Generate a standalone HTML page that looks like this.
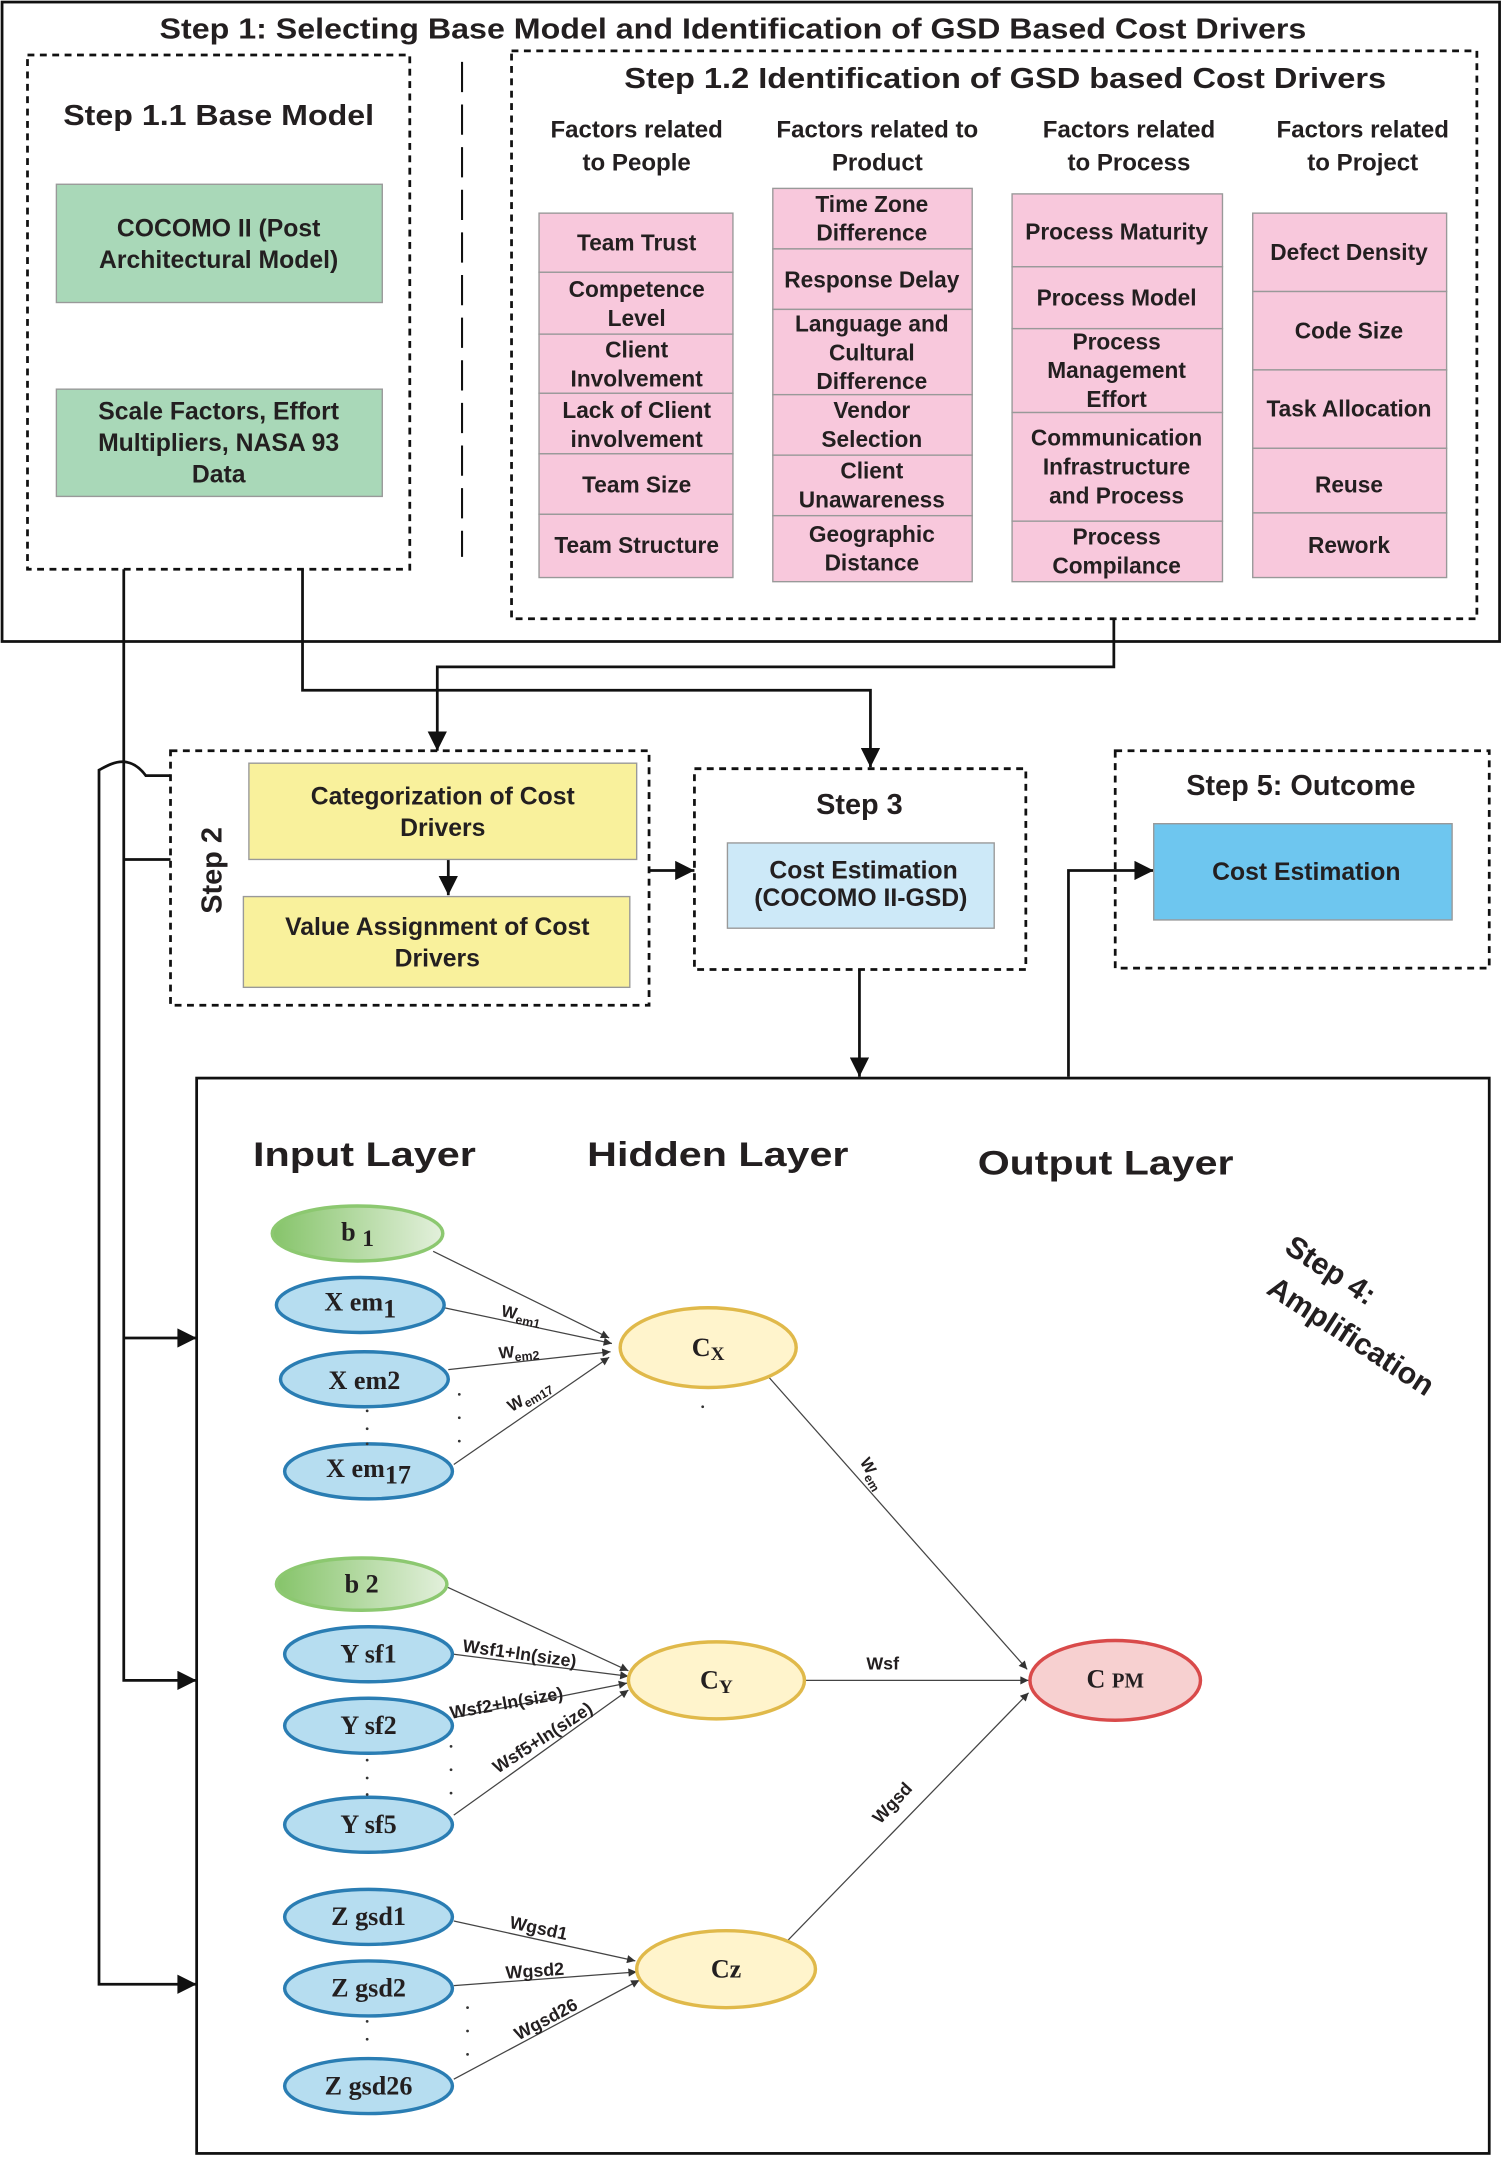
<!DOCTYPE html>
<html><head><meta charset="utf-8"><style>
html,body{margin:0;padding:0;background:#fff}
svg{display:block}
text{font-family:"Liberation Sans",sans-serif;font-weight:bold;fill:#231f20}
.s{font-family:"Liberation Serif",serif}
</style></head><body>
<svg width="1503" height="2157" viewBox="0 0 1093 1568.6" xmlns="http://www.w3.org/2000/svg">
<defs>
<marker id="A" viewBox="0 0 10 10" markerWidth="18" markerHeight="14" refX="10" refY="5" orient="auto" markerUnits="userSpaceOnUse"><path d="M0,0 L10,5 L0,10 z" fill="#111"/></marker>
<marker id="m" viewBox="0 0 10 10" markerWidth="7" markerHeight="6" refX="10" refY="5" orient="auto" markerUnits="userSpaceOnUse"><path d="M0,0 L10,5 L0,10 z" fill="#333"/></marker>
<linearGradient id="g" x1="0" x2="1"><stop offset="0" stop-color="#86c46a"/><stop offset="1" stop-color="#e3f0dc"/></linearGradient>
</defs>
<rect x="1.5" y="1.5" width="1089" height="465" fill="none" stroke="#111" stroke-width="2"/>
<text x="116" y="28" font-size="21" textLength="834" lengthAdjust="spacingAndGlyphs">Step 1: Selecting Base Model and Identification of GSD Based Cost Drivers</text>
<rect x="20" y="40" width="278" height="374" fill="none" stroke="#111" stroke-width="2" stroke-dasharray="5,4"/>
<text x="46" y="91" font-size="21" textLength="226" lengthAdjust="spacingAndGlyphs">Step 1.1 Base Model</text>
<rect x="41" y="134" width="237" height="86" fill="#a9d8b8" stroke="#999"/>
<text x="159" y="172" font-size="18" text-anchor="middle">COCOMO II (Post</text>
<text x="159" y="195" font-size="18" text-anchor="middle">Architectural Model)</text>
<rect x="41" y="283" width="237" height="78" fill="#a9d8b8" stroke="#999"/>
<text x="159" y="305" font-size="18" text-anchor="middle">Scale Factors, Effort</text>
<text x="159" y="328" font-size="18" text-anchor="middle">Multipliers, NASA 93</text>
<text x="159" y="351" font-size="18" text-anchor="middle">Data</text>
<line x1="336" y1="45" x2="336" y2="405" stroke="#111" stroke-width="1.5" stroke-dasharray="22,9"/>
<rect x="372" y="37" width="702" height="413" fill="none" stroke="#111" stroke-width="2" stroke-dasharray="5,4"/>
<text x="454" y="64" font-size="21" textLength="554" lengthAdjust="spacingAndGlyphs">Step 1.2  Identification of GSD based Cost Drivers</text>
<g font-size="17.5" text-anchor="middle">
<text x="463" y="100">Factors related</text><text x="463" y="124">to People</text>
<text x="638" y="100">Factors related to</text><text x="638" y="124">Product</text>
<text x="821" y="100">Factors related</text><text x="821" y="124">to Process</text>
<text x="991" y="100">Factors related</text><text x="991" y="124">to Project</text>
</g>
<g fill="#f8c8dc" stroke="#999">
<rect x="392" y="155" width="141" height="43"/><rect x="392" y="198" width="141" height="45"/><rect x="392" y="243" width="141" height="43"/><rect x="392" y="286" width="141" height="44"/><rect x="392" y="330" width="141" height="44"/><rect x="392" y="374" width="141" height="46"/>
<rect x="562" y="137" width="145" height="44"/><rect x="562" y="181" width="145" height="44"/><rect x="562" y="225" width="145" height="62"/><rect x="562" y="287" width="145" height="44"/><rect x="562" y="331" width="145" height="44"/><rect x="562" y="375" width="145" height="48"/>
<rect x="736" y="141" width="153" height="53"/><rect x="736" y="194" width="153" height="45"/><rect x="736" y="239" width="153" height="61"/><rect x="736" y="300" width="153" height="79"/><rect x="736" y="379" width="153" height="44"/>
<rect x="911" y="155" width="141" height="57"/><rect x="911" y="212" width="141" height="57"/><rect x="911" y="269" width="141" height="57"/><rect x="911" y="326" width="141" height="47"/><rect x="911" y="373" width="141" height="47"/>
</g>
<g font-size="16.5" text-anchor="middle">
<text x="463" y="182">Team Trust</text>
<text x="463" y="216">Competence</text><text x="463" y="237">Level</text>
<text x="463" y="260">Client</text><text x="463" y="281">Involvement</text>
<text x="463" y="304">Lack of Client</text><text x="463" y="325">involvement</text>
<text x="463" y="358">Team Size</text>
<text x="463" y="402">Team Structure</text>
<text x="634" y="154">Time Zone</text><text x="634" y="175">Difference</text>
<text x="634" y="209">Response Delay</text>
<text x="634" y="241">Language and</text><text x="634" y="262">Cultural</text><text x="634" y="283">Difference</text>
<text x="634" y="304">Vendor</text><text x="634" y="325">Selection</text>
<text x="634" y="348">Client</text><text x="634" y="369">Unawareness</text>
<text x="634" y="394">Geographic</text><text x="634" y="415">Distance</text>
<text x="812" y="174">Process Maturity</text>
<text x="812" y="222">Process Model</text>
<text x="812" y="254">Process</text><text x="812" y="275">Management</text><text x="812" y="296">Effort</text>
<text x="812" y="324">Communication</text><text x="812" y="345">Infrastructure</text><text x="812" y="366">and Process</text>
<text x="812" y="396">Process</text><text x="812" y="417">Compilance</text>
<text x="981" y="189">Defect Density</text>
<text x="981" y="246">Code Size</text>
<text x="981" y="303">Task Allocation</text>
<text x="981" y="358">Reuse</text>
<text x="981" y="402">Rework</text>
</g>
<g fill="none" stroke="#111" stroke-width="2">
<polyline points="220,414 220,502 633,502 633,558" marker-end="url(#A)"/>
<polyline points="810,450 810,485 318,485 318,546" marker-end="url(#A)"/>
<polyline points="90,414 90,1222 143,1222" marker-end="url(#A)"/>
<line x1="90" y1="973" x2="143" y2="973" marker-end="url(#A)"/>
<line x1="90" y1="625" x2="124" y2="625"/>
<path d="M124,564 L106,564 C100,556 94,554 89,554 C82,554 76,558 72,560 L72,1443 L143,1443" marker-end="url(#A)"/>
<line x1="472" y1="633" x2="505" y2="633" marker-end="url(#A)"/>
<line x1="326" y1="625" x2="326" y2="651" marker-end="url(#A)"/>
<line x1="625" y1="705" x2="625" y2="783" marker-end="url(#A)"/>
<polyline points="777,783 777,633 839,633" marker-end="url(#A)"/>
</g>
<rect x="124" y="546" width="348" height="185" fill="none" stroke="#111" stroke-width="2" stroke-dasharray="5,4"/>
<text font-size="21" text-anchor="middle" transform="translate(161,633) rotate(-90)">Step 2</text>
<rect x="181" y="555" width="282" height="70" fill="#f9f19c" stroke="#999"/>
<text x="322" y="585" font-size="18" text-anchor="middle">Categorization of Cost</text>
<text x="322" y="608" font-size="18" text-anchor="middle">Drivers</text>
<rect x="177" y="652" width="281" height="66" fill="#f9f19c" stroke="#999"/>
<text x="318" y="680" font-size="18" text-anchor="middle">Value Assignment of Cost</text>
<text x="318" y="703" font-size="18" text-anchor="middle">Drivers</text>
<rect x="505" y="559" width="241" height="146" fill="none" stroke="#111" stroke-width="2" stroke-dasharray="5,4"/>
<text x="625" y="592" font-size="21" text-anchor="middle">Step 3</text>
<rect x="529" y="613" width="194" height="62" fill="#cde9f8" stroke="#999"/>
<text x="628" y="639" font-size="18" text-anchor="middle">Cost Estimation</text>
<text x="626" y="659" font-size="18" text-anchor="middle">(COCOMO II-GSD)</text>
<rect x="811" y="546" width="272" height="158" fill="none" stroke="#111" stroke-width="2" stroke-dasharray="5,4"/>
<text x="946" y="578" font-size="21" text-anchor="middle">Step 5: Outcome</text>
<rect x="839" y="599" width="217" height="70" fill="#6ec6ef" stroke="#999"/>
<text x="950" y="640" font-size="18" text-anchor="middle">Cost Estimation</text>
<rect x="143" y="784" width="940" height="782" fill="none" stroke="#111" stroke-width="2"/>
<text x="184" y="848" font-size="25" textLength="162" lengthAdjust="spacingAndGlyphs">Input Layer</text>
<text x="427" y="848" font-size="25" textLength="190" lengthAdjust="spacingAndGlyphs">Hidden Layer</text>
<text x="711" y="854" font-size="25" textLength="186" lengthAdjust="spacingAndGlyphs">Output Layer</text>
<text font-size="22" transform="translate(933,910) rotate(33)">Step 4:</text>
<text font-size="22" transform="translate(920,940) rotate(33)">Amplification</text>
<g stroke="#444" stroke-width="0.9" fill="none" marker-end="url(#m)">
<line x1="315" y1="910" x2="443" y2="973"/>
<line x1="323" y1="951" x2="445" y2="977"/>
<line x1="326" y1="996" x2="444" y2="983"/>
<line x1="330" y1="1065" x2="443" y2="987"/>
<line x1="556" y1="998" x2="747" y2="1214"/>
<line x1="325" y1="1154" x2="457" y2="1215"/>
<line x1="330" y1="1203" x2="457" y2="1219"/>
<line x1="330" y1="1249" x2="456" y2="1224"/>
<line x1="330" y1="1320" x2="457" y2="1229"/>
<line x1="585" y1="1222" x2="748" y2="1222"/>
<line x1="330" y1="1397" x2="462" y2="1426"/>
<line x1="330" y1="1444" x2="463" y2="1434"/>
<line x1="330" y1="1512" x2="465" y2="1440"/>
<line x1="572" y1="1412" x2="748" y2="1231"/>
</g>
<g stroke-width="2.5">
<ellipse cx="260" cy="897" rx="62" ry="20" fill="url(#g)" stroke="#8cc870"/>
<ellipse cx="262" cy="949" rx="61" ry="20" fill="#b6ddf0" stroke="#2a7db3"/>
<ellipse cx="265" cy="1003" rx="61" ry="20" fill="#b6ddf0" stroke="#2a7db3"/>
<ellipse cx="268" cy="1070" rx="61" ry="20" fill="#b6ddf0" stroke="#2a7db3"/>
<ellipse cx="515" cy="980" rx="64" ry="29" fill="#fff4cc" stroke="#e0b94a"/>
<ellipse cx="263" cy="1152" rx="62" ry="19" fill="url(#g)" stroke="#8cc870"/>
<ellipse cx="268" cy="1203" rx="61" ry="20" fill="#b6ddf0" stroke="#2a7db3"/>
<ellipse cx="268" cy="1255" rx="61" ry="20" fill="#b6ddf0" stroke="#2a7db3"/>
<ellipse cx="268" cy="1327" rx="61" ry="20" fill="#b6ddf0" stroke="#2a7db3"/>
<ellipse cx="521" cy="1222" rx="64" ry="28" fill="#fff4cc" stroke="#e0b94a"/>
<ellipse cx="268" cy="1394" rx="61" ry="20" fill="#b6ddf0" stroke="#2a7db3"/>
<ellipse cx="268" cy="1446" rx="61" ry="20" fill="#b6ddf0" stroke="#2a7db3"/>
<ellipse cx="268" cy="1517" rx="61" ry="20" fill="#b6ddf0" stroke="#2a7db3"/>
<ellipse cx="528" cy="1432" rx="65" ry="28" fill="#fff4cc" stroke="#e0b94a"/>
<ellipse cx="811" cy="1222" rx="62" ry="29" fill="#f7d0d0" stroke="#d94a4a"/>
</g>
<g font-size="19" text-anchor="middle">
<text class="s" x="260" y="902">b <tspan font-size="17" dy="4">1</tspan></text>
<text class="s" x="262" y="953">X em<tspan dy="5">1</tspan></text>
<text class="s" x="265" y="1010">X em2</text>
<text class="s" x="268" y="1074">X em<tspan dy="5">17</tspan></text>
<text class="s" x="515" y="986">C<tspan font-size="14" dy="3">X</tspan></text>
<text class="s" x="263" y="1158">b 2</text>
<text class="s" x="268" y="1209">Y sf1</text>
<text class="s" x="268" y="1261">Y sf2</text>
<text class="s" x="268" y="1333">Y sf5</text>
<text class="s" x="521" y="1228">C<tspan font-size="14" dy="3">Y</tspan></text>
<text class="s" x="268" y="1400">Z gsd1</text>
<text class="s" x="268" y="1452">Z gsd2</text>
<text class="s" x="268" y="1523">Z gsd26</text>
<text class="s" x="528" y="1438">Cz</text>
<text class="s" x="811" y="1227">C <tspan font-size="15">PM</tspan></text>
</g>
<g font-size="12" font-weight="normal">
<text transform="translate(364,957) rotate(12)">W<tspan font-size="9" dy="3">em1</tspan></text>
<text transform="translate(363,988) rotate(-5)">W<tspan font-size="9" dy="3">em2</tspan></text>
<text transform="translate(372,1027) rotate(-30)">W<tspan font-size="9" dy="3">em17</tspan></text>
<text transform="translate(625,1063) rotate(60)">W<tspan font-size="9" dy="3">em</tspan></text>
<text transform="translate(336,1201) rotate(8)" font-size="13">Wsf1+ln(size)</text>
<text transform="translate(328,1250) rotate(-10)" font-size="13">Wsf2+ln(size)</text>
<text transform="translate(362,1290) rotate(-33)" font-size="13">Wsf5+ln(size)</text>
<text x="630" y="1214" font-size="13">Wsf</text>
<text transform="translate(640,1327) rotate(-47)" font-size="13">Wgsd</text>
<text transform="translate(370,1402) rotate(12)" font-size="13">Wgsd1</text>
<text transform="translate(368,1439) rotate(-4)" font-size="13">Wgsd2</text>
<text transform="translate(377,1484) rotate(-28)" font-size="13">Wgsd26</text>
</g>
<g fill="#333">
<circle cx="334" cy="1014" r="1"/><circle cx="334" cy="1031" r="1"/><circle cx="334" cy="1048" r="1"/>
<circle cx="267" cy="1026" r="1"/><circle cx="267" cy="1039" r="1"/><circle cx="267" cy="1050" r="1"/><circle cx="511" cy="1023" r="1"/>
<circle cx="328" cy="1270" r="1"/><circle cx="328" cy="1287" r="1"/><circle cx="328" cy="1304" r="1"/>
<circle cx="267" cy="1280" r="1"/><circle cx="267" cy="1293" r="1"/><circle cx="267" cy="1305" r="1"/>
<circle cx="340" cy="1460" r="1"/><circle cx="340" cy="1477" r="1"/><circle cx="340" cy="1494" r="1"/>
<circle cx="267" cy="1470" r="1"/><circle cx="267" cy="1483" r="1"/>
</g>
</svg>
</body></html>
